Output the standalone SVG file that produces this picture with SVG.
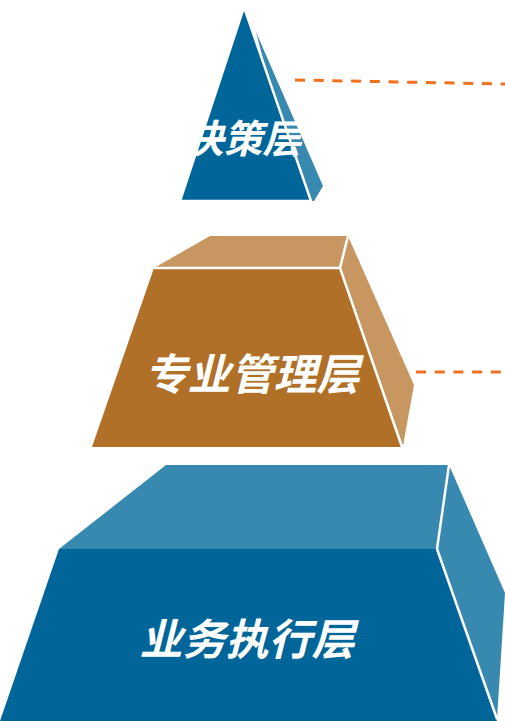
<svg xmlns="http://www.w3.org/2000/svg" width="505" height="721" viewBox="0 0 505 721">
<style>
.lbl{font-family:"Noto Sans CJK SC","Noto Sans",sans-serif;font-weight:bold;font-style:italic;fill:#fff;text-anchor:middle}
.sep{stroke:#fff;stroke-width:2.5;fill:none}
.dash{stroke:#F07020;stroke-width:3;stroke-dasharray:10 8.7;fill:none}
</style>
<rect width="505" height="721" fill="#fff"/>
<g id="connectors">
<line class="dash" x1="295" y1="80" x2="505" y2="84"/>
<line class="dash" x1="416" y1="372" x2="505" y2="372"/>
</g>
<g id="top-layer">
<polygon points="256,32 323,186 314,201 300,201" fill="#3889B0"/>
<polygon points="244,7 311,201 180,201" fill="#006699" stroke="#fff" stroke-width="2.5" stroke-linejoin="miter"/>
<text class="lbl" x="243" y="153" font-size="39">决策层</text>
</g>
<g id="middle-layer">
<polygon points="154,268 210,236 348,236 340,268" fill="#C89660"/>
<polygon points="348,236 414,385 403,446 340,268" fill="#C89660"/>
<polygon points="154,268 340,268 402,447 92,447" fill="#B07028"/>
<polyline class="sep" points="154,268 340,268 402,447"/>
<line class="sep" x1="340" y1="268" x2="348" y2="236"/>
<text class="lbl" x="252" y="390" font-size="43">专业管理层</text>
</g>
<g id="bottom-layer">
<polygon points="59,549 166,465 449,465 437,549" fill="#3889B0"/>
<polygon points="449,465 505,593 497,719 437,549" fill="#3889B0"/>
<polygon points="59,549 437,549 497,721 0,721" fill="#006699"/>
<line class="sep" x1="437" y1="549" x2="497" y2="719" stroke-width="2"/>
<line class="sep" x1="437" y1="549" x2="449" y2="465" stroke-width="2"/>
<text class="lbl" x="247" y="655" font-size="43">业务执行层</text>
</g>
</svg>
